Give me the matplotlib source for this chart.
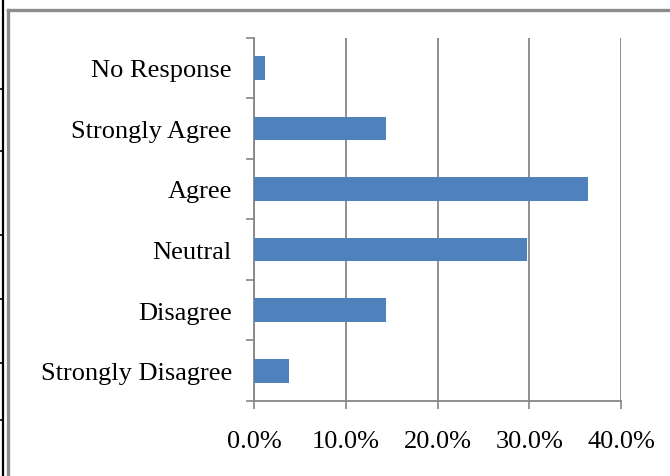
import matplotlib
matplotlib.use("Agg")
import matplotlib.pyplot as plt
from matplotlib.lines import Line2D
from matplotlib.ticker import FuncFormatter

# survey responses (percent of respondents)
categories = ["Strongly Disagree", "Disagree", "Neutral", "Agree", "Strongly Agree", "No Response"]
percent = [3.8, 14.4, 29.8, 36.4, 14.4, 1.2]
x_ticks = [0, 10, 20, 30, 40]

plt.rcParams["font.family"] = ["Liberation Serif", "DejaVu Serif"]

fig = plt.figure(figsize=(6.7, 4.77), dpi=100)
ax = fig.add_axes([254 / 670, 1 - 402 / 477, (621 - 254) / 670, (402 - 38.5) / 477])

ax.barh(range(len(categories)), percent, height=0.39, color="#4F81BD", zorder=3)

grid_col = "#868686"
ax.set_xlim(0, 40)
ax.set_ylim(-0.5, len(categories) - 0.5)
ax.set_xticks(x_ticks)
ax.xaxis.set_major_formatter(FuncFormatter(lambda v, p: f"{v:.1f}%"))
ax.set_yticks(range(len(categories)))
ax.set_yticklabels(categories)
# ticks sit on category boundaries, labels at centres
ax.set_yticks([i - 0.5 for i in range(len(categories) + 1)], minor=True)
ax.tick_params(axis="y", which="major", length=0, pad=16, labelsize=19)
ax.tick_params(axis="y", which="minor", length=6, width=1.2, color=grid_col)
ax.tick_params(axis="x", length=6, width=1.2, color=grid_col, pad=15, labelsize=19)

ax.grid(axis="x", color=grid_col, linewidth=1.3, zorder=0)
for s in ["top", "right"]:
    ax.spines[s].set_visible(False)
for s in ["left", "bottom"]:
    ax.spines[s].set_color(grid_col)
    ax.spines[s].set_linewidth(1.3)

# outer chart frame and window edge
fig.add_artist(Line2D([7.5 / 670, 7.5 / 670], [0, 1 - 10.5 / 477], transform=fig.transFigure,
                      color="#8c8c8c", linewidth=2.4))
fig.add_artist(Line2D([7.5 / 670, 1], [1 - 10.5 / 477, 1 - 10.5 / 477], transform=fig.transFigure,
                      color="#8c8c8c", linewidth=2.4))
fig.add_artist(Line2D([2.5 / 670, 2.5 / 670], [0, 1], transform=fig.transFigure,
                      color="black", linewidth=1.6))
for y in [90, 152, 236, 300, 364, 421]:
    fig.add_artist(Line2D([0, 3 / 670], [1 - y / 477, 1 - y / 477], transform=fig.transFigure,
                          color="black", linewidth=1.2))

fig.savefig("out.png", dpi=100)
